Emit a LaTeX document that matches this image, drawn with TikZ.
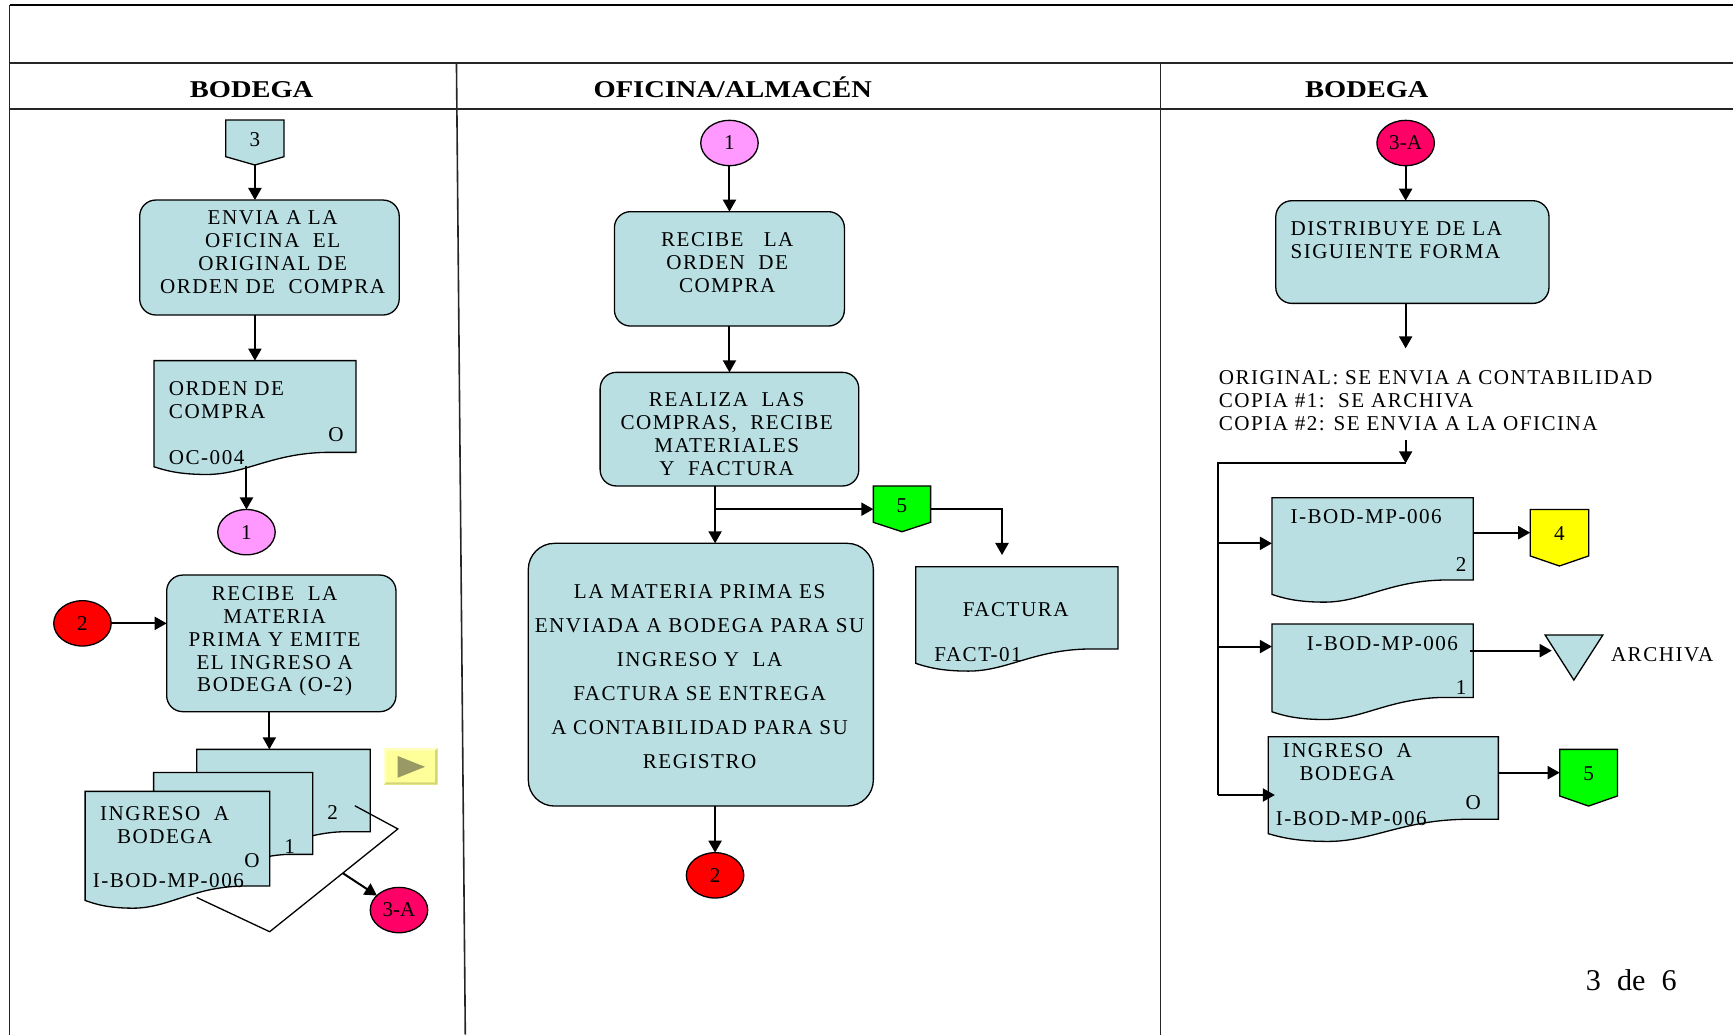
\documentclass[tikz,border=0pt]{standalone}
\usepackage{fontspec}
\setmainfont{Liberation Serif}
\newfontfamily\bodyfam{Liberation Serif}[LetterSpace=7]
\newfontfamily\headfam{Liberation Serif}[FakeStretch=1.18]
\usetikzlibrary{arrows.meta,shapes.geometric,fit,calc}
\definecolor{docblue}{RGB}{185,223,227}
\definecolor{linkpink}{RGB}{255,153,255}
\definecolor{linkred}{RGB}{255,0,0}
\definecolor{linkrose}{RGB}{255,0,102}
\definecolor{pagegreen}{RGB}{0,255,0}
\definecolor{pageyellow}{RGB}{255,255,0}
\definecolor{btnyellow}{RGB}{255,255,153}
\definecolor{btnshade}{RGB}{214,214,120}
\definecolor{btnlight}{RGB}{255,255,204}
\definecolor{btnolive}{RGB}{153,153,102}
\newcommand\pxu{0.55pt}
\newcommand\bodyfnt{\bodyfam\fontsize{10.5}{11.4}\selectfont}
\newcommand\numfnt{\fontsize{10.5}{12}\selectfont}
\newcommand\headfnt{\headfam\bfseries\fontsize{12}{14}\selectfont}

% document symbol: name, left, top, right, bottom of the right edge
\newcommand\docshape[5]{%
  \pgfmathsetmacro\docw{#4-#2}%
  \draw[docline] (#2,#3) -- (#4,#3) -- (#4,#5) -- ({#4-0.15*\docw},#5)
    .. controls ({#4-0.42*\docw},{#5+1}) and ({#2+0.45*\docw},{#5+20}) .. ({#2+0.26*\docw},{#5+20})
    .. controls ({#2+0.12*\docw},{#5+20}) and ({#2+0.05*\docw},{#5+16}) .. (#2,{#5+13}) -- cycle;
  \node[fit={(#2,#3) (#4,#5)}] (#1) {};
}
% off-page connector: name, left, top, right, bottom of sides, tip, fill, label
\newcommand\offpage[8]{%
  \draw[shapeline, fill=#7] (#2,#3) -- (#4,#3) -- (#4,#5) -- ({(#2+#4)/2},#6) -- (#2,#5) -- cycle;
  \node[fit={(#2,#3) (#4,#5)}] (#1) {};
  \node[font=\numfnt] (#1-t) at ({(#2+#4)/2},{(#3+#5)/2+1}) {#8};
  \coordinate (#1-tip) at ({(#2+#4)/2},#6);
}

\begin{document}
\begin{tikzpicture}[x=0.55pt, y=-0.55pt,
  every node/.style={inner sep=0pt, outer sep=0pt},
  frame/.style={line width=0.8pt, draw=black!85},
  shapeline/.style={draw=black, line width=0.65pt},
  procbox/.style={shapeline, fill=docblue, rounded corners=8pt},
  docline/.style={shapeline, fill=docblue},
  link/.style={ellipse, shapeline, minimum width=52*\pxu, minimum height=41*\pxu, font=\numfnt},
  tip/.style={-{Triangle[length=6pt,width=6.5pt]}},
  arr/.style={line width=1pt, tip},
  plainline/.style={line width=1pt},
  ptxt/.style={font=\bodyfnt, align=center},
  ltxt/.style={font=\bodyfnt, align=left, anchor=west},
  headtxt/.style={font=\headfnt, anchor=base},
]
\useasboundingbox (0,0) rectangle (1568,936);

% ---------------- frame and lane headers
\draw[line width=1.2pt] (8.7,4.5) -- (1568,4.5);
\draw[frame] (8.7,4.5) -- (8.7,936);
\draw[frame] (8.7,57) -- (1568,57);
\draw[frame] (8.7,98.6) -- (1568,98.6);
\draw[frame] (413,57) -- (421,936);
\draw[frame] (1050,57) -- (1050,936);
\node[headtxt] (hd1) at (227.6,88) {BODEGA};
\node[headtxt] (hd2) at (663,88) {OFICINA/ALMACÉN};
\node[headtxt] (hd3) at (1236.7,88) {BODEGA};

% ---------------- lane 1: BODEGA
\offpage{p3}{204.3}{108.6}{257}{141.8}{149.3}{docblue}{3}
\node[procbox, fit={(126.4,181) (361.2,285)}] (b1) {};
\node[ptxt] (b1t) at (246.7,228.2) {ENVIA A LA\\OFICINA\ \ EL\\ORIGINAL DE\\ORDEN DE\ \ COMPRA};
\docshape{oc}{139.3}{326.3}{322.1}{409.3}
\node[ltxt] (oct) at (152.9,362.2) {ORDEN DE\\COMPRA};
\node[ptxt] (oco) at (304,393.6) {O};
\node[ltxt] (occ) at (152.9,413.8) {OC-004};
\node[link, fill=linkpink] (c1) at (223,481.5) {1};
\node[link, fill=linkred] (c2) at (74.6,564) {2};
\node[procbox, fit={(150.8,520.3) (358.3,643.9)}] (b2) {};
\node[ptxt] (b2t) at (248.5,580.3) {RECIBE\ \ LA\\MATERIA\\PRIMA Y EMITE\\EL INGRESO A\\BODEGA (O-2)};

% stacked copies of the entry form
\docshape{sk3}{178}{678}{335}{752.5}
\coordinate (rhA) at (321,729);
\coordinate (rhB) at (360,750);
\coordinate (rhC) at (244,843);
\coordinate (rhD) at (178,812);
\draw[shapeline] (rhA) -- (rhB) -- (rhC) -- (rhD);
\docshape{sk2}{139}{699}{283}{773}
\docshape{sk1}{77}{716}{244}{801.7}
\node[ptxt] (sk3n) at (301,735) {2};
\node[ptxt] (sk2n) at (262,766) {1};
\node[ptxt] (sk1t) at (149,746.5) {INGRESO\ \ A\\BODEGA};
\node[ptxt] (sk1o) at (228,779) {O};
\node[ltxt] (sk1c) at (84,796.5) {I-BOD-MP-006};
\node[link, fill=linkrose] (c3a) at (361,823.4) {3-A};

% navigation button
\fill[btnyellow] (347.5,677) rectangle (396,710);
\fill[btnlight] (347.5,677) -- (396,677) -- (394,679) -- (349.5,679) -- (349.5,708) -- (347.5,710) -- cycle;
\fill[btnshade] (396,677) -- (396,710) -- (347.5,710) -- (349.5,707.8) -- (393.8,707.8) -- (393.8,679) -- cycle;
\fill[btnolive] (359.8,684) -- (384.5,693.8) -- (359.8,703.7) -- cycle;

% connectors, lane 1
\draw[arr] (p3-tip) -- (p3-tip |- b1.north);
\draw[arr] (p3-tip |- b1.south) -- (p3-tip |- oc.north);
\draw[arr] ($(c1.north |- oc.south)+(0,12)$) -- (c1.north);
\draw[arr] (c2.east) -- (c2.east -| b2.west);
\coordinate (skin) at ($(sk3.north west)+(65.7,0)$);
\draw[arr] (skin |- b2.south) -- (skin);
\draw[arr] ($(rhB)!0.43!(rhC)$) -- (c3a);

% ---------------- lane 2: OFICINA/ALMACEN
\node[link, fill=linkpink] (c1b) at (660,129.4) {1};
\node[procbox, fit={(555.9,191.5) (764,295)}] (r1) {};
\node[ptxt] (r1t) at (658,237.9) {RECIBE\ \ \ LA\\ORDEN\ \ DE\\COMPRA};
\node[procbox, fit={(543,336.9) (777,439.7)}] (r2) {};
\node[ptxt] (r2t) at (657.5,392.8) {REALIZA\ \ LAS\\COMPRAS,\ \ RECIBE\\MATERIALES\\Y\ \ FACTURA};
\offpage{p5}{790.2}{439.7}{842}{472.6}{481.1}{pagegreen}{5}
\docshape{fact}{828.6}{512.7}{1011.5}{587.2}
\node[ptxt] (factt) at (919,552) {FACTURA};
\node[ltxt] (factc) at (845.4,592) {FACT-01};
\node[shapeline, fill=docblue, rounded corners=13pt, fit={(478,491.6) (790.2,729.3)}] (big) {};
\node[font=\bodyfam\fontsize{10.5}{17}\selectfont, align=center] (bigt) at (633,612.2)
  {LA MATERIA PRIMA ES\\ENVIADA A BODEGA PARA SU\\INGRESO Y\ \ LA\\FACTURA SE ENTREGA\\A CONTABILIDAD PARA SU\\REGISTRO};
\node[link, fill=linkred] (c2b) at (647,792) {2};

% connectors, lane 2
\draw[arr] (c1b.south) -- (c1b.south |- r1.north);
\draw[arr] (c1b.south |- r1.south) -- (c1b.south |- r2.north);
\draw[arr] (c2b.north |- r2.south) -- (c2b.north |- big.north);
\coordinate (brY) at ($(c2b.north |- r2.south)+(0,21)$);
\draw[arr] (brY) -- (brY -| p5.west);
\coordinate (factin) at ($(fact.north west)+(78,-10.5)$);
\draw[plainline, tip] (brY -| p5.east) -| (factin);
\draw[arr] (big.south -| c2b.north) -- (c2b.north);

% ---------------- lane 3: BODEGA
\node[link, fill=linkrose] (c3b) at (1271.8,129.4) {3-A};
\node[procbox, fit={(1154.3,181.6) (1401.5,274.5)}] (dist) {};
\node[ltxt] (distt) at (1167.7,217.5) {DISTRIBUYE DE LA\\SIGUIENTE FORMA};
\node[ltxt] (list) at (1102.8,362.4) {ORIGINAL: SE ENVIA A CONTABILIDAD\\COPIA \#1:\ \ SE ARCHIVA\\COPIA \#2: SE ENVIA A LA OFICINA};
\coordinate (listin) at (1271.8,315.2);
\coordinate (listout) at (1271.8,398);
\coordinate (bustop) at (1271.8,419.2);
\coordinate (busc) at (1102,419.2);

\docshape{dd2}{1150.8}{450.3}{1333}{524.8}
\node[ltxt] (dd2t) at (1167.7,467.5) {I-BOD-MP-006};
\node[ptxt] (dd2n) at (1322,511) {2};
\offpage{p4}{1384.5}{460.9}{1437.4}{503}{512.1}{pageyellow}{4}

\docshape{dd1}{1150.8}{564.6}{1333}{631}
\node[ltxt] (dd1t) at (1182.5,582) {I-BOD-MP-006};
\node[ptxt] (dd1n) at (1322,622) {1};
\draw[shapeline, fill=docblue] (1398,574.6) -- (1450.2,574.6) -- (1424,615.3) -- cycle;
\node[fit={(1398,574.6) (1450.2,615.3)}] (arch) {};
\node[ltxt] (archt) at (1457.6,592.7) {ARCHIVA};

\docshape{ddO}{1147.5}{666.6}{1355.7}{741.3}
\node[ptxt] (ddOt) at (1219,689.5) {INGRESO\ \ A\\BODEGA};
\node[ptxt] (ddOo) at (1333,726.3) {O};
\node[ltxt] (ddOc) at (1154.3,740.4) {I-BOD-MP-006};
\offpage{p5b}{1411.2}{678}{1463.4}{720.2}{729.3}{pagegreen}{5}

% connectors, lane 3
\draw[arr] (c3b.south) -- (c3b.south |- dist.north);
\draw[arr] (c3b.south |- dist.south) -- (listin);
\draw[arr] (listout) -- (bustop);
\coordinate (dd2in) at ($(dd2.north west)+(0,41.3)$);
\coordinate (dd1in) at ($(dd1.north west)+(0,20.4)$);
\coordinate (ddOin) at ($(ddO.north west)+(6,52.7)$);
\draw[plainline] (bustop) -- (busc) -- (busc |- ddOin);
\draw[arr] (busc |- dd2in) -- (dd2in);
\draw[arr] (busc |- dd1in) -- (dd1in);
\draw[arr] (busc |- ddOin) -- (ddOin);
\draw[arr] (p4.west -| dd2.east) -- (p4.west);
\coordinate (archin) at ($(arch.north west)+(6,14.1)$);
\draw[arr] ([xshift=-1.5pt]dd1.east |- archin) -- (archin);
\draw[arr] (p5b.west -| ddO.east) -- (p5b.west);

% page number
\node[font=\fontsize{15}{18}\selectfont] (pg) at (1476,886.4) {\spaceskip=8pt\relax 3 de 6};
\end{tikzpicture}
\end{document}
